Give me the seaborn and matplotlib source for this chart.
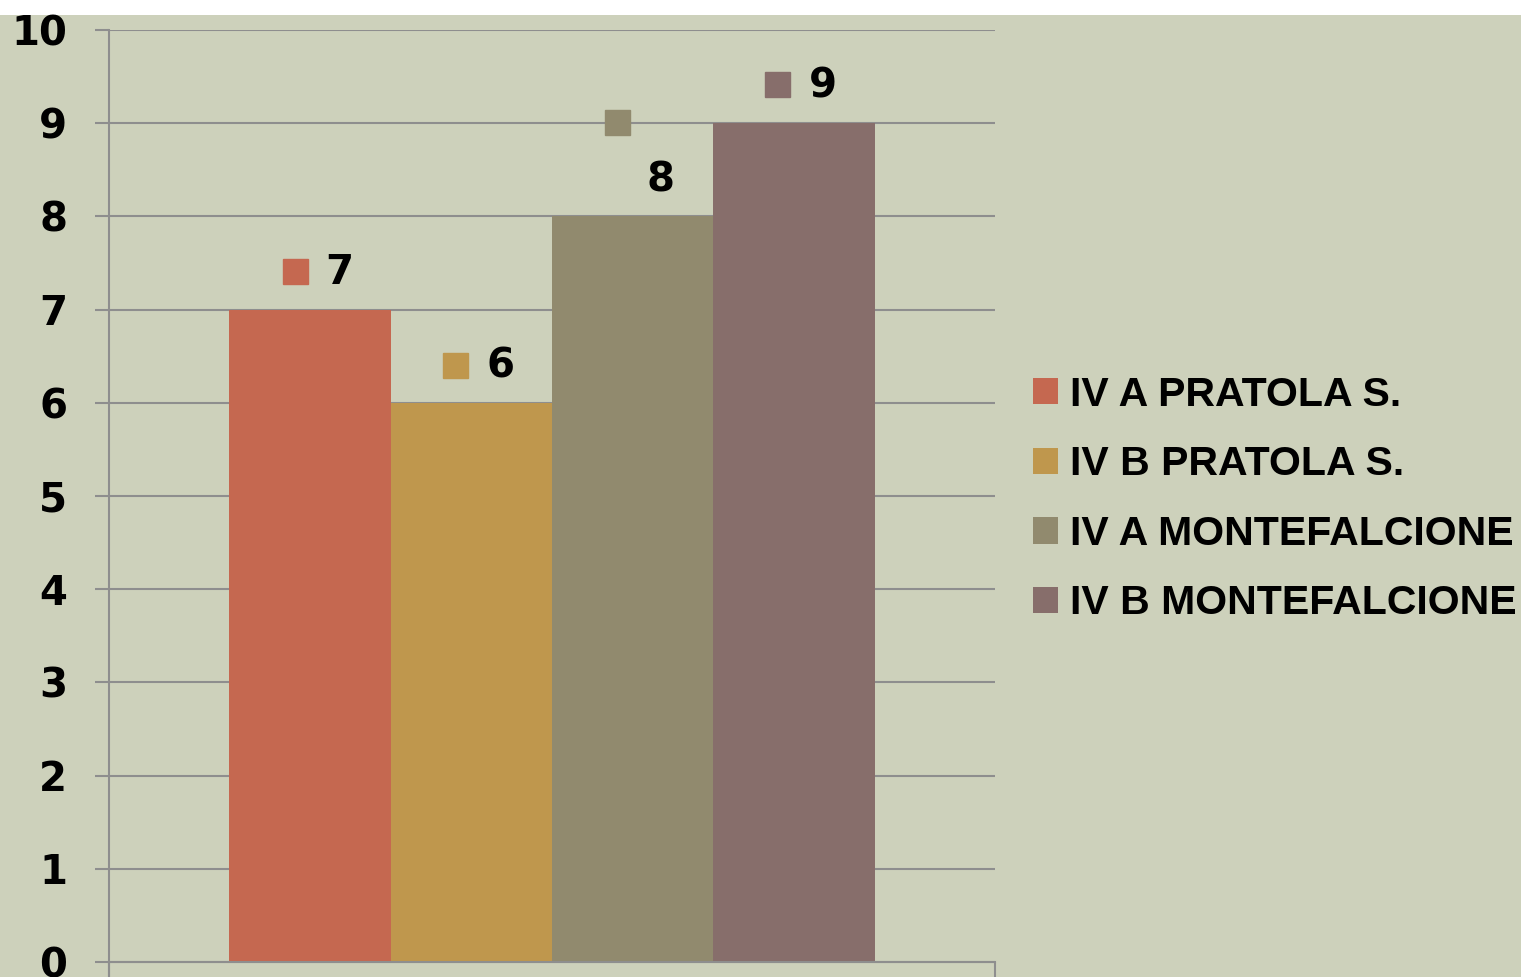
import matplotlib
matplotlib.use("Agg")
import matplotlib.pyplot as plt
import matplotlib.transforms as mtransforms
from matplotlib.patches import Rectangle
from matplotlib import font_manager
import seaborn as sns
import pandas as pd

# ---- data ----
categories = [""]
series = ["IV A PRATOLA S.", "IV B PRATOLA S.", "IV A MONTEFALCIONE", "IV B MONTEFALCIONE"]
values = [7, 6, 8, 9]
colors = ["#C56850", "#BF974D", "#918A6E", "#876E6B"]
yticks = list(range(0, 11))

df = pd.DataFrame({"cat": categories * len(series), "series": series, "value": values})

sns.set_style("white")
plt.rcParams["font.family"] = ["DejaVu Sans"]
plt.rcParams["text.color"] = "black"

BG = "#CDD1BB"
GRID = "#8E8E8E"

names = {f.name for f in font_manager.fontManager.ttflist}
if "Liberation Sans Narrow" in names:
    legend_family, legend_size = "Liberation Sans Narrow", 35
else:
    legend_family, legend_size = "Liberation Sans", 29.5

fig = plt.figure(figsize=(15.21, 9.77), dpi=100)
fig.patch.set_facecolor(BG)
fig.add_artist(Rectangle((0, 1 - 15 / 977), 1, 15 / 977, transform=fig.transFigure,
                         facecolor="white", edgecolor="none", zorder=-1))

ax = fig.add_axes([109 / 1521, 0, (995 - 109) / 1521, 1 - 30 / 977])
ax.set_facecolor("none")

sns.barplot(data=df, x="cat", y="value", hue="series", hue_order=series,
            palette=colors, width=0.729, saturation=1, errorbar=None,
            ax=ax, legend=True, linewidth=0)

ax.set_xlim(-0.5, 0.5)
ax.set_ylim(-15 / 93.2, 10)
ax.set_yticks(yticks)
ax.set_yticklabels([str(t) for t in yticks], fontsize=29, fontweight="bold", color="black")
ax.set_xticks([-0.5, 0.5])
ax.set_xticklabels(["", ""])
ax.set_xlabel("")
ax.set_ylabel("")

ax.yaxis.grid(True, color=GRID, linewidth=1.5)
ax.set_axisbelow(True)
for s in ["top", "right"]:
    ax.spines[s].set_visible(False)
ax.spines["left"].set_color(GRID)
ax.spines["left"].set_linewidth(1.5)
ax.spines["bottom"].set_position(("data", 0))
ax.spines["bottom"].set_color(GRID)
ax.spines["bottom"].set_linewidth(1.5)
ax.tick_params(axis="y", length=10, width=1.5, color=GRID, pad=20, left=True, labelcolor="black")
ax.tick_params(axis="x", length=10.8, width=1.5, color=GRID, direction="out", bottom=True)

# data labels with legend keys
offsets = [(-15, 39, 30, 37), (-16, 38, 29, 36), (-16, 94, 28, 36), (-17, 39, 29, 37)]
bars = [c[0] for c in ax.containers]
for bar, col, (sdx, sdy, tdx, tdy) in zip(bars, colors, offsets):
    xc = bar.get_x() + bar.get_width() / 2
    h = bar.get_height()
    tr_sq = mtransforms.offset_copy(ax.transData, fig=fig, x=sdx * 0.72, y=sdy * 0.72, units="points")
    ax.plot([xc], [h], marker="s", markersize=18, color=col, linestyle="none",
            transform=tr_sq, clip_on=False)
    ax.annotate(f"{h:g}", xy=(xc, h), xytext=(tdx, tdy), textcoords="offset pixels",
                ha="center", va="center", fontsize=29, fontweight="bold", color="black")

handles, labels = ax.get_legend_handles_labels()
leg = ax.legend(handles, labels, loc="center left", bbox_to_anchor=(1033 / 1521, 1 - 499 / 977),
                bbox_transform=fig.transFigure, frameon=False, borderpad=0, borderaxespad=0,
                handlelength=18 / legend_size, handleheight=18 / legend_size,
                handletextpad=8.6 / legend_size, labelspacing=22.8 / legend_size,
                prop={"family": legend_family, "weight": "bold", "size": legend_size})
for t in leg.get_texts():
    t.set_color("black")

fig.savefig("out.png", dpi=100, facecolor=fig.get_facecolor())
